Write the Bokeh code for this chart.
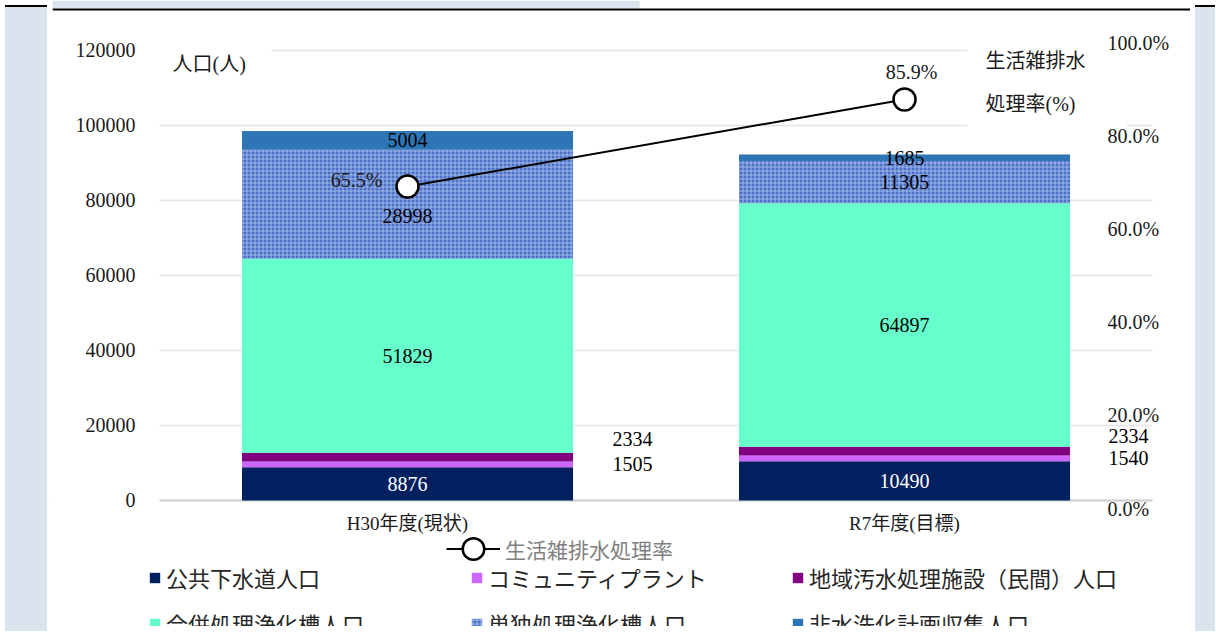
import numpy as np
from bokeh.plotting import figure
from bokeh.models import (ColumnDataSource, Range1d, LinearAxis, FixedTicker, Grid,
                          NumeralTickFormatter, Legend, LegendItem, Label, Div,
                          BoxAnnotation)
from bokeh.layouts import row
from bokeh.core.properties import value
from bokeh.embed import file_html
from bokeh.resources import INLINE

# ---------------- data ----------------
categories = ["H30年度(現状)", "R7年度(目標)"]
series_names = ["公共下水道人口", "コミュニティプラント", "地域汚水処理施設（民間）人口",
                "合併処理浄化槽人口", "単独処理浄化槽人口", "非水洗化計画収集人口"]
s_sewer = [8876, 10490]
s_community = [1505, 1540]
s_regional = [2334, 2334]
s_combined = [51829, 64897]
s_single = [28998, 11305]
s_nonflush = [5004, 1685]
rate = [0.655, 0.859]
rate_labels = ["65.5%", "85.9%"]
rate_name = "生活雑排水処理率"
y_ticks = [0, 20000, 40000, 60000, 80000, 100000, 120000]
pct_ticks = [0.0, 0.2, 0.4, 0.6, 0.8, 1.0]

# ---------------- style ----------------
BG = "#dbe3ef"
FONT = "'Liberation Serif', 'Noto Sans CJK JP'"
TXT = "#1a1a1a"
colors = ["#002060", "#cc66ff", "#800080", "#66ffcc", "#4a70c6", "#2e75b6"]
keys = ["sewer", "community", "regional", "combined", "single", "nonflush"]
series = [s_sewer, s_community, s_regional, s_combined, s_single, s_nonflush]
x_idx = list(range(len(categories)))

XS, XE = -0.7143, 1.5754          # x range of the whole white panel
YS, YE = -33600, 133333           # y range of the whole white panel
X_LEFT, X_RIGHT = -0.499, 1.499   # extent of the gridded plot area

p = figure(width=1138, height=626, output_backend="svg", toolbar_location=None,
           x_range=Range1d(XS, XE), y_range=Range1d(YS, YE),
           min_border_left=0, min_border_right=0, min_border_top=0,
           min_border_bottom=0)
p.background_fill_color = "white"
p.border_fill_color = "white"
p.outline_line_color = None
p.xgrid.grid_line_color = None
p.ygrid.grid_line_color = "#e4e4e4"
p.ygrid.grid_line_width = 1.5
p.ygrid.ticker = FixedTicker(ticks=y_ticks)
p.add_layout(Grid(dimension=1, ticker=FixedTicker(ticks=[0]),
                  grid_line_color="#d0d0d0", grid_line_width=2))

p.extra_y_ranges = {"pct_axis": Range1d(-0.2537, 1.0922),
                    "pct_line": Range1d(-0.3767, 1.0911)}

# left axis
ya = p.yaxis[0]
ya.fixed_location = X_LEFT
ya.ticker = FixedTicker(ticks=y_ticks)
ya.formatter = NumeralTickFormatter(format="0")
ya.axis_line_color = None
ya.major_tick_line_color = None
ya.minor_tick_line_color = None
ya.major_label_standoff = 18
ya.major_label_text_font = FONT
ya.major_label_text_font_size = "20px"
ya.major_label_text_color = TXT

# bottom axis, drawn at y = 0
xa = p.xaxis[0]
xa.fixed_location = 0
xa.ticker = FixedTicker(ticks=x_idx)
xa.major_label_overrides = {i: c for i, c in zip(x_idx, categories)}
xa.axis_line_color = None
xa.major_tick_line_color = None
xa.minor_tick_line_color = None
xa.major_label_standoff = 7
xa.major_label_text_font = FONT
xa.major_label_text_font_size = "19px"
xa.major_label_text_color = TXT

# right axis (rate)
ra = LinearAxis(y_range_name="pct_axis", ticker=FixedTicker(ticks=pct_ticks),
                formatter=NumeralTickFormatter(format="0.0%"), fixed_location=1.3964)
ra.axis_line_color = None
ra.major_tick_line_color = None
ra.minor_tick_line_color = None
ra.major_label_standoff = 0
ra.major_label_text_font = FONT
ra.major_label_text_font_size = "20px"
ra.major_label_text_color = TXT
p.add_layout(ra, "right")

# white areas: outside the gridded area and behind the titles
for l, r, b, t in [(XS, X_LEFT, YS, YE), (X_RIGHT, XE, YS, YE),
                   (X_LEFT, -0.274, 111467, YE),
                   (1.127, 1.447, 98133, YE),
                   (1.447, X_RIGHT, 114667, YE)]:
    p.add_layout(BoxAnnotation(left=l, right=r, bottom=b, top=t, level="underlay",
                               fill_color="white", fill_alpha=1, line_color=None))
# strip above the rule, and the black rule at the top edge
p.add_layout(BoxAnnotation(left=XS, right=0.4668, bottom=131200, top=YE, level="overlay",
                           fill_color=BG, fill_alpha=1, line_color=None))
p.add_layout(BoxAnnotation(left=XS, right=XE, bottom=130667, top=131200, level="overlay",
                           fill_color="black", fill_alpha=1, line_color=None))

# bars
src = ColumnDataSource(dict(x=x_idx, **{k: v for k, v in zip(keys, series)}))
bars = p.vbar_stack(keys, x="x", width=0.666, color=colors, line_color=None, source=src)
hb = bars[4].glyph
hb.hatch_pattern = "+"
hb.hatch_color = "#a9bfec"
hb.hatch_scale = 4
hb.hatch_weight = 1
hb.hatch_alpha = 0.9

# bar value labels (positions derived from the data)
label_dx = {(0, 1): 225, (0, 2): 225, (1, 1): 224, (1, 2): 224}
label_dy = {(0, 2): -18, (1, 2): -15, (0, 4): 12}
arr = np.array(series, dtype=float)
mids = np.cumsum(arr, axis=0) - arr / 2
lx, ly, lt, lc, ldx, ldy = [], [], [], [], [], []
for k in range(len(series)):
    for i in x_idx:
        lx.append(i)
        ly.append(mids[k, i])
        lt.append(str(series[k][i]))
        lc.append("white" if k == 0 else "black")
        ldx.append(label_dx.get((i, k), 0))
        ldy.append(label_dy.get((i, k), 0))
lsrc = ColumnDataSource(dict(x=lx, y=ly, t=lt, c=lc, dx=ldx, dy=ldy))
p.text(x="x", y="y", text="t", text_color="c", x_offset="dx", y_offset="dy",
       source=lsrc, text_font=value(FONT), text_font_size="20px",
       text_align="center", text_baseline="middle")

# rate line
line_r = p.line(x=x_idx, y=rate, y_range_name="pct_line", line_color="black", line_width=2)
pt_r = p.scatter(x=x_idx, y=rate, y_range_name="pct_line", size=22, marker="circle",
                 fill_color="white", line_color="black", line_width=2.5)
rsrc = ColumnDataSource(dict(x=x_idx, y=rate, t=rate_labels, dx=[-51, 7], dy=[-6, -27]))
p.text(x="x", y="y", text="t", x_offset="dx", y_offset="dy", source=rsrc,
       y_range_name="pct_line", text_font=value(FONT), text_font_size="20px",
       text_color=TXT, text_align="center", text_baseline="middle")

# titles
p.add_layout(Label(x=120, y=563, x_units="screen", y_units="screen", text="人口(人)",
                   text_font=FONT, text_font_size="20px", text_color=TXT,
                   text_baseline="middle"))
p.add_layout(Label(x=933, y=566, x_units="screen", y_units="screen", text="生活雑排水",
                   text_font=FONT, text_font_size="20px", text_color=TXT,
                   text_baseline="middle"))
p.add_layout(Label(x=933, y=523, x_units="screen", y_units="screen", text="処理率(%)",
                   text_font=FONT, text_font_size="20px", text_color=TXT,
                   text_baseline="middle"))

# legends
def mk_legend(items, loc, gw, gh, size, color):
    lg = Legend(items=items, location=loc, orientation="horizontal",
                glyph_width=gw, glyph_height=gh, label_height=26,
                label_standoff=5, padding=0, margin=0, spacing=0,
                border_line_color=None, background_fill_alpha=0,
                label_text_font=FONT, label_text_font_size=size,
                label_text_color=color)
    p.add_layout(lg)

mk_legend([LegendItem(label=rate_name, renderers=[line_r, pt_r])], (394, 50),
          54, 55, "21px", "#808080")
xs = [96, 418, 739]
ys = [33, -13]
for n, name in enumerate(series_names):
    mk_legend([LegendItem(label=name, renderers=[bars[n]])], (xs[n % 3], ys[n // 3]),
              13, 13, "22px", "#262626")

pad_bg = f"linear-gradient(to bottom, black 0px, black 2px, {BG} 2px, {BG} 100%)"
left_pad = Div(text="", width=42, height=626, styles={"background": pad_bg})
right_pad = Div(text="", width=20, height=626, styles={"background": pad_bg})
layout = row(left_pad, p, right_pad, spacing=0)

open("out.html", "w").write(file_html(layout, INLINE))
